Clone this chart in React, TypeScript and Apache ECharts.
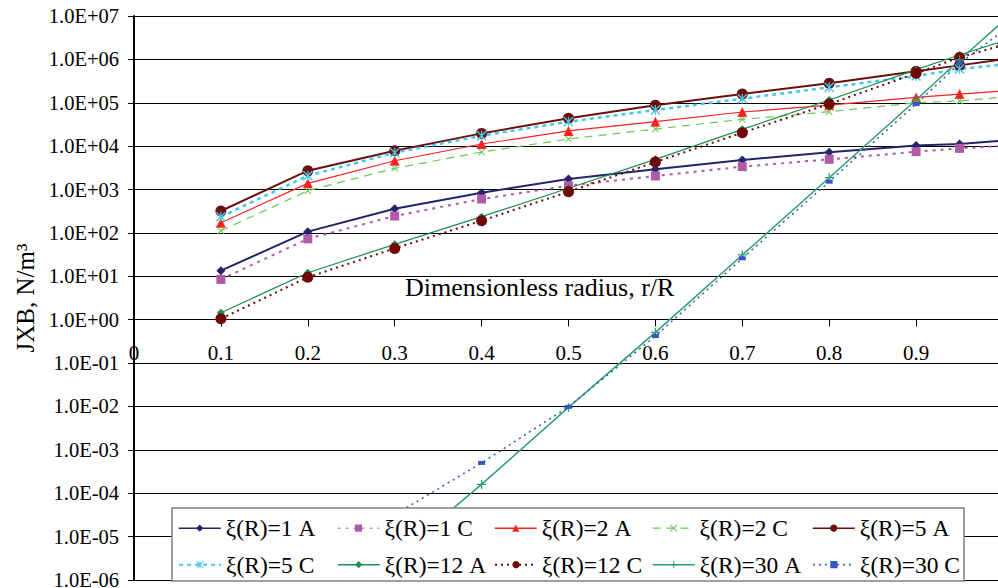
import React, { useEffect, useRef } from "react";
import * as echarts from "echarts";

const FONT = "Liberation Serif, Times New Roman, serif";

// radius positions (r/R)
const radius = [0.1, 0.2, 0.3, 0.4, 0.5, 0.6, 0.7, 0.8, 0.9, 0.95, 1.0];

const seriesNames = [
  "ξ(R)=1 A", "ξ(R)=1 C", "ξ(R)=2 A", "ξ(R)=2 C", "ξ(R)=5 A",
  "ξ(R)=5 C", "ξ(R)=12 A", "ξ(R)=12 C", "ξ(R)=30 A", "ξ(R)=30 C",
];

const xi1A = [13.5, 107, 361, 845, 1750, 2920, 4790, 7210, 10300, 11200, 13500];
const xi1C = [8.5, 73, 245, 605, 1225, 2050, 3370, 4970, 7450, 8900, 10100];
const xi2A = [172, 1390, 4610, 11200, 22400, 36600, 61200, 88000, 133000, 159000, 187000];
const xi2C = [112, 940, 3080, 7320, 14600, 24800, 41500, 62200, 100000, 110000, 136000];
const xi5A = [320, 2720, 7850, 19700, 43800, 87300, 159000, 281000, 532000, 728000, 1000000];
const xi5C = [237, 2080, 7060, 17400, 36600, 68100, 124000, 227000, 414000, 600000, 760000];
const xi12A = [1.45, 12.1, 54.6, 237, 1070, 4970, 24400, 116000, 580000, 1260000, 2650000];
const xi12C = [1.05, 9.5, 44, 191, 890, 4300, 20500, 93600, 478000, 1110000, 2140000];
const xi30A = [1.3e-9, 6.6e-8, 3.3e-6, 1.6e-4, 0.0095, 0.51, 31, 1875, 116000, 968000, 7500000];
const xi30C = [1.3e-7, 2e-6, 3.2e-5, 5.0e-4, 0.0098, 0.42, 26, 1520, 93600, 811000, 4500000];

const seriesValues = [xi1A, xi1C, xi2A, xi2C, xi5A, xi5C, xi12A, xi12C, xi30A, xi30C];

// y axis: decades from 1.0E-06 to 1.0E+07 (log10 exponents)
const yMinExp = -6;
const yMaxExp = 7;
const xTickLabelsHidden = [1];

const SYM_X = "path://M1,0L5,4L9,0L10,1L6,5L10,9L9,10L5,6L1,10L0,9L4,5L0,1Z";
const SYM_AST = "path://M1,0L5,4L9,0L10,1L6,5L10,9L9,10L5,6L1,10L0,9L4,5L0,1Z M4.4,0H5.6V10H4.4Z";
const SYM_PLUS = "path://M4.3,0H5.7V4.3H10V5.7H5.7V10H4.3V5.7H0V4.3H4.3Z";

const styles = [
  { color: "#24246a", width: 2, type: "solid", symbol: "diamond", size: 9 },
  { color: "#b05aa8", width: 2, type: [3, 5], symbol: "rect", size: 9 },
  { color: "#ff2020", width: 1.2, type: "solid", symbol: "triangle", size: 10 },
  { color: "#6cc850", width: 1.2, type: [8, 6], symbol: SYM_X, size: 7 },
  { color: "#6b0f0f", width: 2, type: "solid", symbol: "circle", size: 11 },
  { color: "#44c8e8", width: 2.5, type: [4, 4], symbol: SYM_AST, size: 10 },
  { color: "#1a9050", width: 1.2, type: "solid", symbol: "diamond", size: 8 },
  { color: "#700808", width: 2, type: [2, 4], symbol: "circle", size: 11 },
  { color: "#2aa070", width: 1.5, type: "solid", symbol: SYM_PLUS, size: 9 },
  { color: "#3358c0", width: 1.5, type: [2, 4], symbol: "rect", size: [7, 4] },
];
const legendLineWidths = [1.5, 1, 1.5, 1.2, 1.5, 2, 1.5, 2, 1.5, 1.8];

const legendCols = [178, 337, 494, 652, 812];
const legendRowsTop = [516.2, 552.7];

function yLabel(e: number): string {
  const k = Math.round(e);
  return "1.0E" + (k < 0 ? "-" : "+") + String(Math.abs(k)).padStart(2, "0");
}

export default function App() {
  const ref = useRef<HTMLDivElement>(null);
  useEffect(() => {
    if (!ref.current) return;
    const chart = echarts.init(ref.current, null, { renderer: "svg" });
    const series = seriesNames.map((name, i) => {
      const s = styles[i];
      return {
        name,
        type: "line",
        data: radius.map((x, j) => [x, Math.log10(seriesValues[i][j])]),
        symbol: s.symbol,
        symbolSize: s.size,
        showSymbol: true,
        clip: true,
        lineStyle: { color: s.color, width: s.width, type: s.type },
        itemStyle: { color: s.color },
        z: 2,
      };
    });
    const legends = seriesNames.map((name, i) => ({
      data: [name],
      left: legendCols[i % 5],
      top: legendRowsTop[Math.floor(i / 5)],
      itemWidth: 42,
      itemHeight: 9,
      itemGap: 0,
      padding: 0,
      selectedMode: false,
      lineStyle: { width: legendLineWidths[i] },
      textStyle: { fontSize: 23.5, color: "#000", fontFamily: FONT },
      z: 20,
    }));
    chart.setOption({
      animation: false,
      backgroundColor: "#fff",
      textStyle: { fontFamily: FONT },
      grid: {
        left: 134,
        top: 16,
        width: 869,
        height: 564,
        containLabel: false,
        outerBoundsMode: "none",
      },
      xAxis: {
        type: "value",
        min: 0,
        max: 1,
        interval: 0.1,
        position: "bottom",
        offset: -260.5,
        axisLine: { onZero: false, show: true, lineStyle: { color: "#000", width: 1 } },
        axisTick: { show: true, length: 7, inside: false, lineStyle: { color: "#000", width: 1 } },
        axisLabel: {
          fontSize: 21,
          color: "#000",
          fontFamily: FONT,
          margin: 23,
          formatter: (v: number) => (xTickLabelsHidden.includes(Math.round(v * 10) / 10) ? "" : String(Math.round(v * 10) / 10)),
        },
        splitLine: { show: false },
      },
      yAxis: {
        type: "value",
        min: yMinExp,
        max: yMaxExp,
        interval: 1,
        axisLine: { show: true, onZero: false, lineStyle: { color: "#000", width: 2 } },
        axisTick: { show: true, length: 6, inside: false, lineStyle: { color: "#000", width: 1 } },
        axisLabel: { fontSize: 20.5, color: "#000", fontFamily: FONT, margin: 15, formatter: yLabel },
        splitLine: { show: true, lineStyle: { color: "#000", width: 1 } },
      },
      legend: legends,
      graphic: [
        {
          type: "rect",
          z: 10,
          shape: { x: 172, y: 508, width: 792, height: 73 },
          style: { fill: "#fff", stroke: "#808080", lineWidth: 1.5 },
        },
        {
          type: "text",
          z: 10,
          x: 25,
          y: 298,
          rotation: Math.PI / 2,
          style: {
            text: "JXB, N/m³",
            fontSize: 25,
            fontFamily: FONT,
            fill: "#000",
            align: "center",
            verticalAlign: "middle",
            textAlign: "center",
            textVerticalAlign: "middle",
          },
        },
        {
          type: "text",
          z: 10,
          x: 405,
          y: 287,
          style: {
            text: "Dimensionless radius, r/R",
            fontSize: 26,
            fontFamily: FONT,
            fill: "#000",
            align: "left",
            verticalAlign: "middle",
            textAlign: "left",
            textVerticalAlign: "middle",
          },
        },
      ],
      series,
    });
    return () => chart.dispose();
  }, []);
  return (
    <div
      ref={ref}
      style={{ position: "fixed", left: 0, top: 0, width: 998, height: 588 }}
    />
  );
}
